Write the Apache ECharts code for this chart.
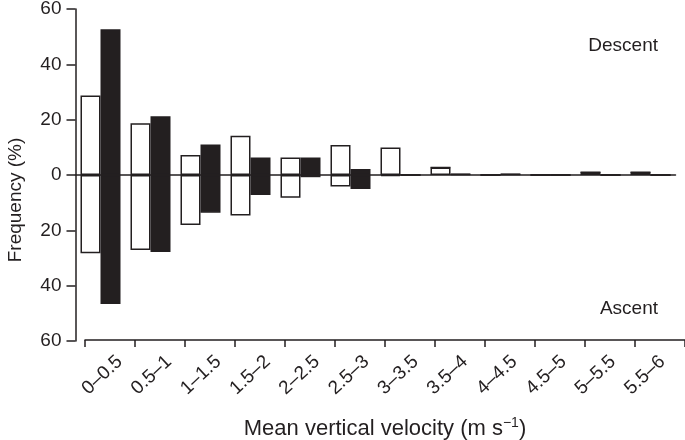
<!DOCTYPE html>
<html>
<head>
<meta charset="utf-8">
<script src="https://cdn.jsdelivr.net/npm/echarts@6/dist/echarts.min.js"></script>
<style>html,body{margin:0;padding:0;background:#fff}#c{width:685px;height:440px}</style>
</head>
<body>
<div id="c"></div>
<script>
const categories = ['0–0.5','0.5–1','1–1.5','1.5–2','2–2.5','2.5–3','3–3.5','3.5–4','4–4.5','4.5–5','5–5.5','5.5–6'];
const whiteDescent = [28.7, 18.7, 7.2, 14.2, 6.3, 10.8, 9.9, 2.7, 0, 0, 1.0, 1.0];
const whiteAscent  = [28.3, 27.1, 18.1, 14.6, 8.2, 4.2, 0.4, 0, 0, 0, 0, 0];
const blackDescent = [52.7, 21.2, 11.0, 6.3, 6.3, 2.2, 0, 0.3, 0.3, 0, 0, 0];
const blackAscent  = [46.6, 27.8, 13.6, 7.2, 0.8, 5.1, 0, 0, 0, 0, 0, 0];
const yTicks = [-60, -40, -20, 0, 20, 40, 60];

const INK = '#231f20';
const FONT = 'Liberation Sans, Arial, Helvetica, sans-serif';
const chart = echarts.init(document.getElementById('c'), null, {renderer: 'canvas'});

function bar(name, stack, data, fill) {
  return {
    name: name, type: 'bar', stack: stack, xAxisIndex: 0, yAxisIndex: 0,
    data: data, barWidth: 20, barGap: '0%',
    itemStyle: {color: fill, borderColor: INK, borderWidth: 1.5},
    emphasis: {disabled: true}, animation: false
  };
}

chart.setOption({
  animation: false,
  textStyle: {fontFamily: FONT, color: INK},
  grid: [
    {left: 75.5, top: 9, width: 600, height: 332, outerBoundsMode: 'none', containLabel: false},
    {left: 85, top: 9, width: 600, height: 331, outerBoundsMode: 'none', containLabel: false},
    {left: 95, top: 9, width: 592, height: 331, outerBoundsMode: 'none', containLabel: false}
  ],
  xAxis: [
    {
      type: 'category', gridIndex: 0, data: categories,
      axisLine: {onZero: true, lineStyle: {color: INK, width: 1.5}},
      axisTick: {show: false}, axisLabel: {show: false}, splitLine: {show: false}
    },
    {
      type: 'category', gridIndex: 1, data: categories, position: 'bottom',
      axisLine: {onZero: false, lineStyle: {color: INK, width: 1.5}},
      axisTick: {show: true, length: 7, lineStyle: {color: INK, width: 1.5}},
      axisLabel: {show: false},
      name: 'Mean vertical velocity (m s{sup|−1})',
      nameLocation: 'middle', nameGap: 76,
      nameTextStyle: {fontSize: 22, color: INK, fontFamily: FONT,
        rich: {sup: {fontSize: 14, verticalAlign: 'top', padding: [0,0,12,0], color: INK, fontFamily: FONT}}}
    },
    {
      type: 'category', gridIndex: 2, data: categories, position: 'bottom',
      axisLine: {show: false, onZero: false}, axisTick: {show: false},
      axisLabel: {rotate: 43, margin: 19, fontSize: 19, color: INK, fontFamily: FONT, interval: 0}
    }
  ],
  yAxis: [
    {
      type: 'value', gridIndex: 0, min: -60, max: 60, interval: 20,
      axisLine: {show: true, lineStyle: {color: INK, width: 1.5}},
      axisTick: {show: true, length: 9, lineStyle: {color: INK, width: 1.5}},
      axisLabel: {margin: 14, fontSize: 19, color: INK, fontFamily: FONT,
        formatter: v => String(Math.abs(v))},
      splitLine: {show: false},
      name: 'Frequency (%)', nameLocation: 'middle', nameRotate: 90, nameGap: 50,
      nameTextStyle: {fontSize: 19, color: INK, fontFamily: FONT, padding: [0, 50, 0, 0]}
    },
    {type: 'value', gridIndex: 1, show: false, min: -60, max: 60},
    {type: 'value', gridIndex: 2, show: false, min: -60, max: 60}
  ],
  graphic: [
    {type: 'text', right: 27, top: 36, style: {text: 'Descent', fontSize: 19, fontFamily: FONT, fill: INK}},
    {type: 'text', right: 27, top: 299, style: {text: 'Ascent', fontSize: 19, fontFamily: FONT, fill: INK}}
  ],
  series: [
    bar('White descent', 'w', whiteDescent, '#ffffff'),
    bar('White ascent', 'w', whiteAscent.map(v => -v), '#ffffff'),
    bar('Black descent', 'b', blackDescent, INK),
    bar('Black ascent', 'b', blackAscent.map(v => -v), INK)
  ]
});
</script>
</body>
</html>
